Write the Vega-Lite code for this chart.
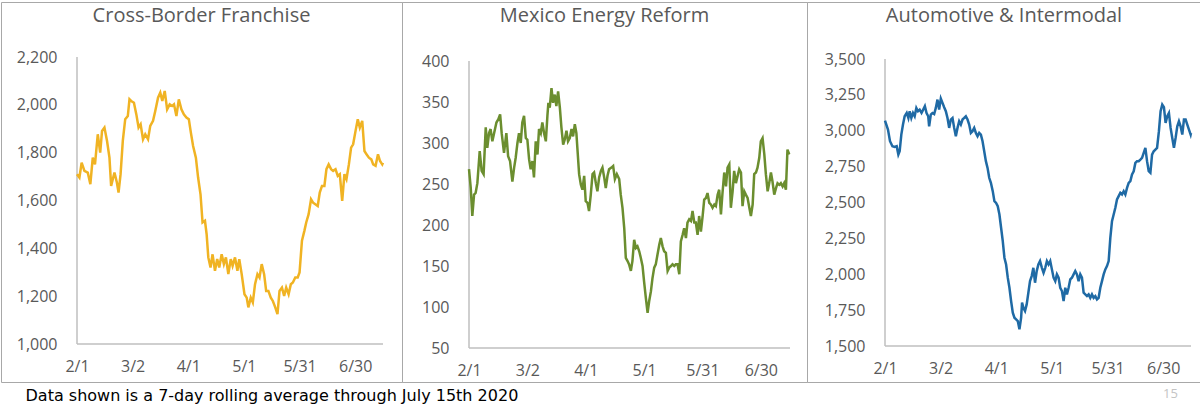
{
  "$schema": "https://vega.github.io/schema/vega-lite/v6.json",
  "padding": {"left": 0, "top": 1, "right": 0, "bottom": 0},
  "background": "white",
  "bounds": "flush",
  "title": {
    "text": "Data shown is a 7-day rolling average through July 15th 2020",
    "orient": "bottom",
    "anchor": "start",
    "font": "DejaVu Sans",
    "fontSize": 16,
    "fontWeight": "normal",
    "color": "#000000",
    "baseline": "alphabetic",
    "offset": 0,
    "dx": 25
  },
  "datasets": {
    "cbf": [
      {"d":0,"v":1710},{"d":1.3,"v":1696},{"d":2.5,"v":1758},{"d":4,"v":1724},{"d":5.8,"v":1717},{"d":7.2,"v":1668},{"d":8.5,"v":1779},{"d":9.7,"v":1751},{"d":11.2,"v":1877},{"d":12.5,"v":1800},
      {"d":13.5,"v":1891},{"d":14.8,"v":1905},{"d":16.2,"v":1849},{"d":17.5,"v":1779},{"d":18.4,"v":1661},{"d":20.2,"v":1717},{"d":21.5,"v":1675},{"d":22.4,"v":1633},{"d":23.5,"v":1710},{"d":24.7,"v":1849},
      {"d":26,"v":1940},{"d":27.4,"v":1953},{"d":28.3,"v":2023},{"d":29.2,"v":2016},{"d":30.7,"v":2009},{"d":32,"v":1960},{"d":33.2,"v":1905},{"d":34.3,"v":1919},{"d":35.6,"v":1856},{"d":36.8,"v":1877},
      {"d":38.3,"v":1856},{"d":39.5,"v":1912},{"d":41,"v":1933},{"d":42.2,"v":1974},{"d":43.7,"v":2030},{"d":44.9,"v":2051},{"d":46,"v":2016},{"d":47.3,"v":2058},{"d":48.6,"v":1981},{"d":50,"v":2002},
      {"d":51.3,"v":1995},{"d":52.3,"v":2002},{"d":53.6,"v":1953},{"d":54.9,"v":2023},{"d":56.3,"v":1981},{"d":57.6,"v":1960},{"d":59,"v":1947},{"d":60.3,"v":1940},{"d":61.4,"v":1884},{"d":62.6,"v":1828},
      {"d":64.1,"v":1779},{"d":65.3,"v":1696},{"d":66.6,"v":1626},{"d":67.7,"v":1508},{"d":69,"v":1515},{"d":69.9,"v":1459},{"d":70.8,"v":1362},{"d":72,"v":1320},{"d":73.1,"v":1375},{"d":74.4,"v":1306},
      {"d":75.6,"v":1355},{"d":76.7,"v":1320},{"d":78,"v":1375},{"d":79.2,"v":1334},{"d":80.3,"v":1362},{"d":81.6,"v":1292},{"d":82.9,"v":1355},{"d":83.9,"v":1327},{"d":85.2,"v":1362},{"d":86.5,"v":1306},
      {"d":87.5,"v":1355},{"d":88.8,"v":1292},{"d":90.3,"v":1208},{"d":91.5,"v":1194},{"d":92.4,"v":1153},{"d":93.7,"v":1194},{"d":94.8,"v":1174},{"d":96,"v":1250},{"d":97.3,"v":1292},{"d":98.4,"v":1278},
      {"d":99.6,"v":1334},{"d":100.9,"v":1292},{"d":102,"v":1222},{"d":103.2,"v":1222},{"d":104.5,"v":1194},{"d":105.6,"v":1180},{"d":106.9,"v":1153},{"d":108.1,"v":1125},{"d":109.2,"v":1222},{"d":110.5,"v":1236},
      {"d":111.7,"v":1201},{"d":112.8,"v":1236},{"d":114.1,"v":1208},{"d":115.3,"v":1250},{"d":116.4,"v":1257},{"d":117.7,"v":1278},{"d":119,"v":1278},{"d":120,"v":1299},{"d":121.3,"v":1432},{"d":122.6,"v":1473},
      {"d":123.6,"v":1508},{"d":124.9,"v":1543},{"d":126.2,"v":1605},{"d":127.3,"v":1591},{"d":128.5,"v":1584},{"d":129.8,"v":1577},{"d":130.9,"v":1633},{"d":132.1,"v":1661},{"d":133.4,"v":1661},{"d":134.5,"v":1731},
      {"d":135.7,"v":1751},{"d":137,"v":1731},{"d":138.1,"v":1724},{"d":139.4,"v":1731},{"d":140.6,"v":1703},{"d":141.7,"v":1710},{"d":143,"v":1598},{"d":144.2,"v":1710},{"d":145.3,"v":1689},{"d":146.6,"v":1751},
      {"d":147.8,"v":1821},{"d":148.9,"v":1835},{"d":150.2,"v":1891},{"d":151.4,"v":1940},{"d":152.5,"v":1905},{"d":153.8,"v":1933},{"d":155,"v":1807},{"d":156.1,"v":1793},{"d":157.4,"v":1779},{"d":158.7,"v":1772},
      {"d":159.7,"v":1751},{"d":161,"v":1745},{"d":162.3,"v":1793},{"d":163.4,"v":1765},{"d":164.6,"v":1751},{"d":165,"v":1758}
    ],
    "mer": [
      {"d":0,"v":268},{"d":0.9,"v":245},{"d":1.7,"v":211},{"d":2.6,"v":237},{"d":3.4,"v":239},{"d":4.3,"v":251},{"d":5.5,"v":290},{"d":6.5,"v":266},{"d":7.5,"v":262},{"d":8.6,"v":319},
      {"d":9.4,"v":294},{"d":10.3,"v":312},{"d":11.1,"v":317},{"d":12,"v":302},{"d":12.9,"v":312},{"d":14.1,"v":325},{"d":15.1,"v":329},{"d":16,"v":335},{"d":16.8,"v":312},{"d":18,"v":288},
      {"d":19.2,"v":312},{"d":20.1,"v":284},{"d":21.1,"v":278},{"d":22.3,"v":253},{"d":23.2,"v":270},{"d":24,"v":282},{"d":24.9,"v":300},{"d":25.7,"v":312},{"d":26.6,"v":300},{"d":27.4,"v":325},
      {"d":28.3,"v":333},{"d":29.2,"v":306},{"d":30,"v":304},{"d":30.9,"v":280},{"d":31.7,"v":268},{"d":32.6,"v":278},{"d":33.4,"v":258},{"d":34.3,"v":302},{"d":35.2,"v":286},{"d":36,"v":317},
      {"d":36.9,"v":312},{"d":37.7,"v":325},{"d":38.6,"v":312},{"d":39.5,"v":302},{"d":40.3,"v":333},{"d":40.8,"v":349},{"d":41.5,"v":343},{"d":42.4,"v":367},{"d":43.2,"v":349},{"d":44.1,"v":359},
      {"d":44.9,"v":345},{"d":45.8,"v":363},{"d":46.7,"v":343},{"d":47.5,"v":319},{"d":48.4,"v":298},{"d":49.2,"v":304},{"d":50.1,"v":315},{"d":50.9,"v":302},{"d":51.8,"v":306},{"d":52.7,"v":317},
      {"d":53.5,"v":308},{"d":54.4,"v":323},{"d":55.2,"v":312},{"d":55.7,"v":294},{"d":56.6,"v":262},{"d":57.5,"v":249},{"d":58.3,"v":243},{"d":59.2,"v":260},{"d":60,"v":229},{"d":60.9,"v":227},
      {"d":61.7,"v":217},{"d":62.6,"v":237},{"d":63.5,"v":262},{"d":64.3,"v":264},{"d":65.2,"v":251},{"d":66,"v":241},{"d":66.9,"v":258},{"d":67.8,"v":266},{"d":68.6,"v":270},{"d":69.5,"v":258},
      {"d":70.3,"v":245},{"d":71.2,"v":260},{"d":72,"v":268},{"d":73.2,"v":270},{"d":74.1,"v":272},{"d":75,"v":256},{"d":76,"v":262},{"d":77.2,"v":256},{"d":78,"v":237},{"d":78.9,"v":221},
      {"d":79.8,"v":196},{"d":80.6,"v":160},{"d":81.5,"v":156},{"d":82.3,"v":152},{"d":83.2,"v":144},{"d":84,"v":156},{"d":84.9,"v":182},{"d":85.8,"v":172},{"d":86.6,"v":174},{"d":87.5,"v":168},
      {"d":88.3,"v":160},{"d":89.2,"v":150},{"d":90,"v":131},{"d":90.9,"v":111},{"d":91.8,"v":93},{"d":92.6,"v":107},{"d":93.5,"v":119},{"d":94.3,"v":135},{"d":95.2,"v":148},{"d":96,"v":152},
      {"d":96.9,"v":164},{"d":97.8,"v":176},{"d":98.6,"v":184},{"d":99.5,"v":174},{"d":100.3,"v":168},{"d":101.2,"v":166},{"d":102.1,"v":144},{"d":102.9,"v":148},{"d":103.8,"v":150},{"d":104.6,"v":152},
      {"d":105.5,"v":150},{"d":106.3,"v":152},{"d":107.2,"v":152},{"d":108.1,"v":140},{"d":108.9,"v":180},{"d":109.8,"v":188},{"d":110.6,"v":196},{"d":111.5,"v":184},{"d":112.3,"v":203},{"d":113.2,"v":207},
      {"d":114.1,"v":205},{"d":114.9,"v":217},{"d":115.8,"v":203},{"d":116.6,"v":203},{"d":117.5,"v":188},{"d":118.3,"v":211},{"d":119.2,"v":192},{"d":120.1,"v":211},{"d":120.9,"v":231},{"d":121.8,"v":233},
      {"d":122.6,"v":239},{"d":123.5,"v":227},{"d":124.3,"v":225},{"d":125.2,"v":221},{"d":126.1,"v":225},{"d":126.9,"v":223},{"d":127.8,"v":237},{"d":128.6,"v":243},{"d":129.5,"v":213},{"d":130.3,"v":239},
      {"d":131.2,"v":264},{"d":132.1,"v":247},{"d":132.9,"v":270},{"d":133.8,"v":274},{"d":134.6,"v":221},{"d":135.5,"v":241},{"d":136.3,"v":266},{"d":137.2,"v":251},{"d":138.1,"v":260},{"d":138.9,"v":268},
      {"d":139.8,"v":264},{"d":140.6,"v":223},{"d":141.5,"v":241},{"d":142.3,"v":237},{"d":143.2,"v":233},{"d":144.1,"v":221},{"d":144.9,"v":211},{"d":145.8,"v":225},{"d":146.6,"v":262},{"d":147.5,"v":264},
      {"d":148.3,"v":270},{"d":149.2,"v":282},{"d":150,"v":302},{"d":150.9,"v":306},{"d":151.8,"v":286},{"d":152.6,"v":262},{"d":153.5,"v":241},{"d":154.3,"v":251},{"d":155.2,"v":264},{"d":156,"v":253},
      {"d":156.9,"v":237},{"d":157.8,"v":245},{"d":158.6,"v":251},{"d":159.5,"v":249},{"d":160.3,"v":251},{"d":161.2,"v":247},{"d":162,"v":251},{"d":162.9,"v":243},{"d":163.7,"v":292},{"d":164.6,"v":286}
    ],
    "ai": [
      {"d":0,"v":3071},{"d":1.6,"v":3008},{"d":2.7,"v":2927},{"d":4,"v":2892},{"d":5.2,"v":2887},{"d":6.3,"v":2892},{"d":7.2,"v":2834},{"d":7.9,"v":2857},{"d":8.8,"v":2973},{"d":9.7,"v":3043},
      {"d":10.6,"v":3101},{"d":11.7,"v":3124},{"d":12.6,"v":3089},{"d":13.3,"v":3136},{"d":14.2,"v":3089},{"d":15.1,"v":3124},{"d":16,"v":3101},{"d":16.9,"v":3159},{"d":17.8,"v":3136},{"d":18.7,"v":3147},
      {"d":19.7,"v":3124},{"d":20.6,"v":3147},{"d":21.5,"v":3171},{"d":22.4,"v":3124},{"d":23.3,"v":3101},{"d":23.8,"v":3031},{"d":24.7,"v":3113},{"d":25.6,"v":3124},{"d":26.5,"v":3117},{"d":27.4,"v":3159},
      {"d":28.3,"v":3217},{"d":29.2,"v":3147},{"d":30.1,"v":3224},{"d":31,"v":3194},{"d":31.9,"v":3164},{"d":32.8,"v":3136},{"d":33.7,"v":3089},{"d":34.6,"v":3020},{"d":35.5,"v":3078},{"d":36.4,"v":3089},
      {"d":37.3,"v":3020},{"d":38.2,"v":2962},{"d":39.1,"v":3020},{"d":40,"v":3066},{"d":40.9,"v":3043},{"d":41.8,"v":3078},{"d":42.7,"v":3089},{"d":43.6,"v":3101},{"d":44.5,"v":3078},{"d":45.4,"v":3043},
      {"d":46.3,"v":2985},{"d":47.2,"v":2997},{"d":48.1,"v":3020},{"d":49,"v":2985},{"d":49.9,"v":2962},{"d":50.8,"v":2985},{"d":51.7,"v":2973},{"d":52.6,"v":2927},{"d":53.5,"v":2857},{"d":54.4,"v":2788},
      {"d":55.3,"v":2741},{"d":56.2,"v":2672},{"d":57.1,"v":2637},{"d":58.1,"v":2579},{"d":59,"v":2509},{"d":59.9,"v":2497},{"d":60.8,"v":2474},{"d":61.7,"v":2416},{"d":62.6,"v":2324},{"d":63.5,"v":2231},
      {"d":64.4,"v":2115},{"d":65.3,"v":2068},{"d":66.2,"v":1976},{"d":67.1,"v":1906},{"d":68,"v":1813},{"d":68.9,"v":1732},{"d":69.8,"v":1697},{"d":70.7,"v":1686},{"d":71.6,"v":1674},{"d":72.5,"v":1616},
      {"d":73.4,"v":1697},{"d":73.9,"v":1802},{"d":74.6,"v":1767},{"d":75.5,"v":1744},{"d":76.4,"v":1790},{"d":77.3,"v":1871},{"d":78.2,"v":1952},{"d":79.1,"v":1987},{"d":80,"v":2045},{"d":80.9,"v":1941},
      {"d":81.8,"v":2022},{"d":82.7,"v":2068},{"d":83.6,"v":2092},{"d":84.6,"v":2045},{"d":85.5,"v":2010},{"d":86.4,"v":2045},{"d":87.3,"v":2092},{"d":88.2,"v":2068},{"d":89.1,"v":2092},{"d":90,"v":2034},
      {"d":90.9,"v":1976},{"d":91.8,"v":1952},{"d":92.7,"v":1999},{"d":93.6,"v":1976},{"d":94.5,"v":1906},{"d":95.4,"v":1883},{"d":96.3,"v":1813},{"d":97.2,"v":1906},{"d":98.1,"v":1860},{"d":99,"v":1906},
      {"d":99.9,"v":1964},{"d":100.8,"v":1976},{"d":101.7,"v":1999},{"d":102.6,"v":2022},{"d":103.5,"v":1999},{"d":104.4,"v":1952},{"d":105.3,"v":1999},{"d":106.2,"v":1976},{"d":107.1,"v":1871},{"d":108,"v":1860},
      {"d":108.9,"v":1848},{"d":109.8,"v":1860},{"d":110.7,"v":1836},{"d":111.6,"v":1860},{"d":112.5,"v":1836},{"d":113.4,"v":1848},{"d":114.3,"v":1825},{"d":115.2,"v":1836},{"d":116.1,"v":1906},{"d":117,"v":1952},
      {"d":117.9,"v":1999},{"d":118.8,"v":2034},{"d":119.7,"v":2057},{"d":120.6,"v":2092},{"d":121.5,"v":2254},{"d":122.4,"v":2370},{"d":123.3,"v":2416},{"d":124.2,"v":2463},{"d":125.1,"v":2521},{"d":126,"v":2544},
      {"d":126.9,"v":2567},{"d":127.8,"v":2556},{"d":128.7,"v":2579},{"d":129.6,"v":2556},{"d":130.5,"v":2602},{"d":131.4,"v":2637},{"d":132.3,"v":2649},{"d":133.2,"v":2695},{"d":134.1,"v":2718},{"d":135,"v":2776},
      {"d":135.9,"v":2788},{"d":136.8,"v":2788},{"d":137.7,"v":2799},{"d":138.6,"v":2811},{"d":139.5,"v":2846},{"d":140.4,"v":2881},{"d":141.3,"v":2788},{"d":142.2,"v":2718},{"d":143.1,"v":2707},{"d":144,"v":2834},
      {"d":144.9,"v":2857},{"d":145.8,"v":2869},{"d":146.7,"v":2881},{"d":147.7,"v":2997},{"d":148.6,"v":3136},{"d":149.5,"v":3182},{"d":150.4,"v":3164},{"d":151.3,"v":3055},{"d":152.2,"v":3101},{"d":153.1,"v":3124},
      {"d":154,"v":3020},{"d":154.9,"v":2950},{"d":155.8,"v":2881},{"d":156.7,"v":2950},{"d":157.6,"v":3031},{"d":158.5,"v":3066},{"d":159.4,"v":3031},{"d":160.3,"v":2973},{"d":161.2,"v":3078},{"d":162.1,"v":3078},
      {"d":163,"v":3043},{"d":163.9,"v":3008},{"d":164.8,"v":2973},{"d":165,"v":2985}
    ]
  },
  "spacing": 0,
  "hconcat": [
    {
      "width": 401,
      "height": 380,
      "title": {"text": "Cross-Border Franchise"},
      "layer": [
        {
          "data": {"values": [{}]},
          "mark": {"type": "rule", "color": "#bfbfbf", "strokeWidth": 1.5},
          "encoding": {"x": {"datum": 0}, "x2": {"datum": 165}, "y": {"datum": 1000}}
        },
        {
          "data": {"values": [{}]},
          "mark": {"type": "rule", "color": "#bfbfbf", "strokeWidth": 1.5},
          "encoding": {"x": {"datum": 0}, "y": {"datum": 1000}, "y2": {"datum": 2200}}
        },
        {
          "data": {"name": "cbf"},
          "mark": {"type": "line", "color": "#F0B323", "strokeWidth": 2.5},
          "encoding": {
            "x": {
              "field": "d", "type": "quantitative", "title": null,
              "scale": {"domain": [0, 165], "range": [76, 382], "nice": false, "zero": false},
              "axis": {"offset": -38, "domain": false, "values": [0, 30, 60, 90, 120, 150], "labelExpr": "timeFormat(datetime(2020, 1, 1 + datum.value), '%-m/%-d')"}
            },
            "y": {
              "field": "v", "type": "quantitative", "title": null,
              "scale": {"domain": [1000, 2200], "range": [342, 55], "nice": false, "zero": false},
              "axis": {"offset": -76, "domain": false, "values": [1000, 1200, 1400, 1600, 1800, 2000, 2200], "format": ",d"}
            }
          }
        }
      ]
    },
    {
      "width": 405,
      "height": 380,
      "title": {"text": "Mexico Energy Reform"},
      "layer": [
        {
          "data": {"values": [{}]},
          "mark": {"type": "rule", "color": "#bfbfbf", "strokeWidth": 1.5},
          "encoding": {"x": {"datum": 0}, "x2": {"datum": 165}, "y": {"datum": 50}}
        },
        {
          "data": {"values": [{}]},
          "mark": {"type": "rule", "color": "#bfbfbf", "strokeWidth": 1.5},
          "encoding": {"x": {"datum": 0}, "y": {"datum": 50}, "y2": {"datum": 400}}
        },
        {
          "data": {"name": "mer"},
          "mark": {"type": "line", "color": "#6B8E2F", "strokeWidth": 2.5},
          "encoding": {
            "x": {
              "field": "d", "type": "quantitative", "title": null,
              "scale": {"domain": [0, 165], "range": [67, 388], "nice": false, "zero": false},
              "axis": {"offset": -34, "domain": false, "values": [0, 30, 60, 90, 120, 150], "labelExpr": "timeFormat(datetime(2020, 1, 1 + datum.value), '%-m/%-d')"}
            },
            "y": {
              "field": "v", "type": "quantitative", "title": null,
              "scale": {"domain": [50, 400], "range": [346, 59], "nice": false, "zero": false},
              "axis": {"offset": -67, "domain": false, "values": [50, 100, 150, 200, 250, 300, 350, 400], "format": ",d"}
            }
          }
        }
      ]
    },
    {
      "width": 394,
      "height": 380,
      "title": {"text": "Automotive & Intermodal"},
      "layer": [
        {
          "data": {"values": [{}]},
          "mark": {"type": "rule", "color": "#bfbfbf", "strokeWidth": 1.5},
          "encoding": {"x": {"datum": 0}, "x2": {"datum": 165}, "y": {"datum": 1500}}
        },
        {
          "data": {"values": [{}]},
          "mark": {"type": "rule", "color": "#bfbfbf", "strokeWidth": 1.5},
          "encoding": {"x": {"datum": 0}, "y": {"datum": 1500}, "y2": {"datum": 3500}}
        },
        {
          "data": {"name": "ai"},
          "mark": {"type": "line", "color": "#1F6AA5", "strokeWidth": 2.5},
          "encoding": {
            "x": {
              "field": "d", "type": "quantitative", "title": "15",
              "scale": {"domain": [0, 165], "range": [78, 384], "nice": false, "zero": false},
              "axis": {
                "offset": -36, "domain": false, "values": [0, 30, 60, 90, 120, 150],
                "labelExpr": "timeFormat(datetime(2020, 1, 1 + datum.value), '%-m/%-d')",
                "titleX": 363, "titleY": 47, "titleBaseline": "middle", "titleAlign": "center",
                "titleFont": "Open Sans", "titleFontSize": 13, "titleFontWeight": "normal", "titleColor": "#c4c4c4"
              }
            },
            "y": {
              "field": "v", "type": "quantitative", "title": null,
              "scale": {"domain": [1500, 3500], "range": [344, 57], "nice": false, "zero": false},
              "axis": {"offset": -78, "domain": false, "values": [1500, 1750, 2000, 2250, 2500, 2750, 3000, 3250, 3500], "format": ",d"}
            }
          }
        }
      ]
    }
  ],
  "config": {
    "view": {"stroke": "#a8a8a8", "strokeWidth": 1},
    "title": {
      "font": "Open Sans",
      "fontSize": 20,
      "fontWeight": "normal",
      "color": "#595959",
      "anchor": "middle",
      "baseline": "alphabetic",
      "offset": -24
    },
    "axis": {
      "ticks": false,
      "grid": false,
      "labelColor": "#595959",
      "labelFont": "Open Sans",
      "labelFontSize": 16,
      "labelFlush": false,
      "labelOverlap": false
    },
    "axisX": {"labelPadding": 14},
    "axisY": {"labelPadding": 20}
  }
}
